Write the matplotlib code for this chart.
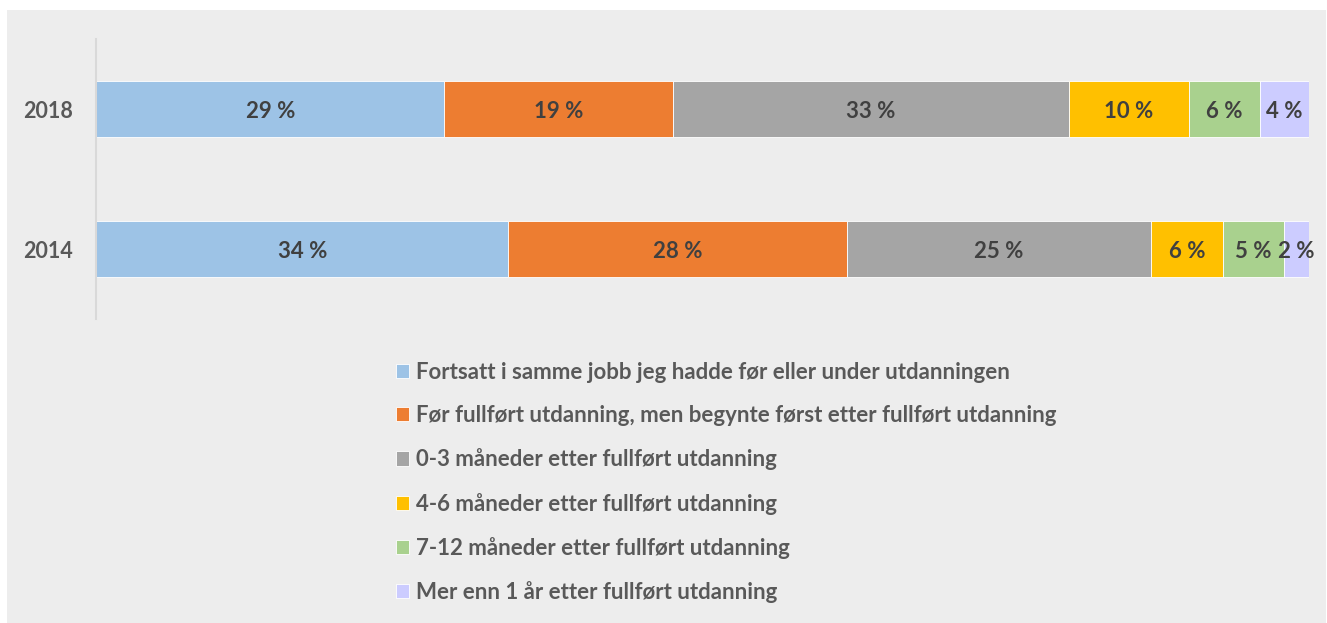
import numpy as np
import matplotlib.pyplot as plt
from matplotlib.patches import Rectangle

plt.rcParams['font.family'] = ['Lato', 'DejaVu Sans']

# Andeler (%) lest av figuren
years = ['2014', '2018']
share_2014 = [34.0, 27.9, 25.1, 5.9, 5.0, 2.1]
share_2018 = [28.7, 18.8, 32.6, 9.9, 5.9, 4.0]
categories = [
    'Fortsatt i samme jobb jeg hadde før eller under utdanningen',
    'Før fullført utdanning, men begynte først etter fullført utdanning',
    '0-3 måneder etter fullført utdanning',
    '4-6 måneder etter fullført utdanning',
    '7-12 måneder etter fullført utdanning',
    'Mer enn 1 år etter fullført utdanning',
]
colors = ['#9DC3E6', '#ED7D31', '#A5A5A5', '#FFC000', '#A9D18E', '#CCCCFF']

data = np.array([share_2014, share_2018])
data = data / data.sum(axis=1, keepdims=True) * 100

W, H = 1327, 623
fig = plt.figure(figsize=(W / 100, H / 100), dpi=100, facecolor='white')
fig.patches.append(Rectangle((7 / W, 0), (1326 - 7) / W, (H - 10) / H,
                             transform=fig.transFigure, facecolor='#EDEDED',
                             edgecolor='none', zorder=-10))

ax = fig.add_axes([96 / W, 1 - 319 / H, 1213 / W, 280 / H])
ax.set_facecolor('none')
ax.set_zorder(2)

y = np.arange(len(years))
left = np.zeros(len(years))
handles = []
for i, (cat, col) in enumerate(zip(categories, colors)):
    vals = data[:, i]
    b = ax.barh(y, vals, left=left, height=0.4, color=col,
                edgecolor='white', linewidth=0.6, label=cat)
    handles.append(b)
    for yy, l, v in zip(y, left, vals):
        ax.text(l + v / 2, yy, f'{round(v):.0f} %', ha='center',
                va='center_baseline', fontsize=16, fontweight='bold',
                color='#404040')
    left += vals

ax.set_xlim(0, 100)
ax.set_ylim(-0.5, 1.5)
ax.set_yticks(y)
ax.set_yticklabels(years, fontsize=15.5, fontweight='bold', color='#595959',
                   va='center_baseline')
ax.tick_params(axis='y', length=0, pad=16.5)
ax.set_xticks([])
for s in ['top', 'right', 'bottom']:
    ax.spines[s].set_visible(False)
ax.spines['left'].set_color('#D9D9D9')
ax.spines['left'].set_linewidth(1.5)

leg = fig.legend(handles=handles, labels=categories, loc='upper left',
                 bbox_to_anchor=(387 / W, 1 - 353 / H), frameon=False,
                 handlelength=0.6, handleheight=0.6, handletextpad=0.3,
                 labelspacing=1.0, borderaxespad=0,
                 prop={'size': 16, 'weight': 'bold'})
for t in leg.get_texts():
    t.set_color('#595959')

fig.savefig('out.png', dpi=100, facecolor='white')
